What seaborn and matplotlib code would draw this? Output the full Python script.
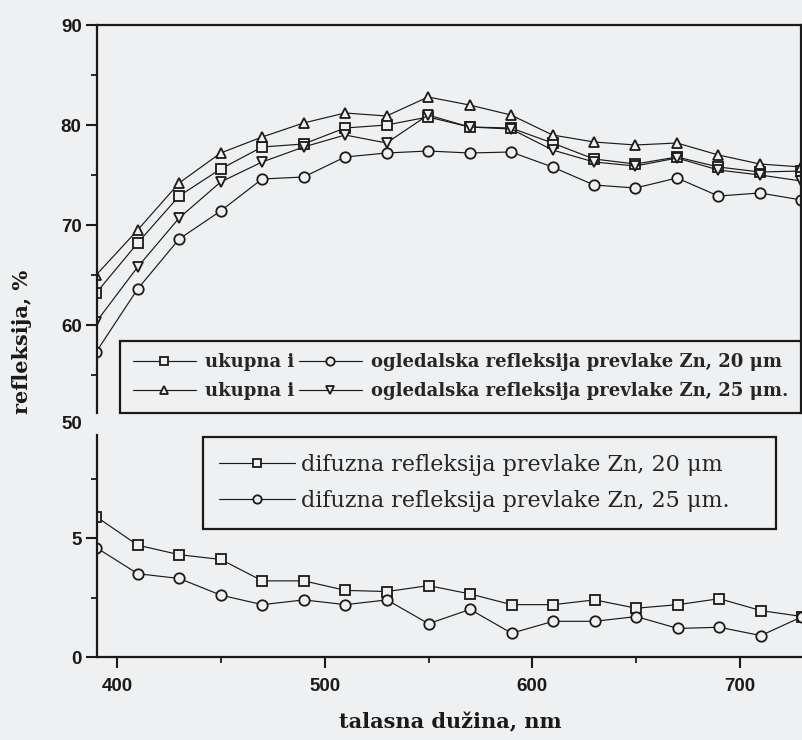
import matplotlib
matplotlib.use('Agg')
import matplotlib.pyplot as plt
import matplotlib.transforms as mtransforms
from matplotlib.lines import Line2D
from matplotlib.ticker import MultipleLocator
import seaborn as sns

# talasna duzina, nm
talasna = [390, 410, 430, 450, 470, 490, 510, 530, 550,
           570, 590, 610, 630, 650, 670, 690, 710, 730]

# ukupna i ogledalska refleksija, %
ukupna_20 = [63.2, 68.2, 72.9, 75.6, 77.8, 78.1, 79.7, 80.0, 80.8,
             79.8, 79.7, 78.2, 76.6, 76.1, 76.8, 75.8, 75.3, 75.4]
ogledalska_20 = [57.3, 63.6, 68.6, 71.4, 74.6, 74.8, 76.8, 77.2, 77.4,
                 77.2, 77.3, 75.8, 74.0, 73.7, 74.7, 72.9, 73.2, 72.5]
ukupna_25 = [65.0, 69.5, 74.2, 77.2, 78.8, 80.2, 81.2, 80.9, 82.8,
             82.0, 81.0, 79.0, 78.3, 78.0, 78.2, 77.0, 76.1, 75.8]
ogledalska_25 = [60.3, 65.8, 70.7, 74.3, 76.3, 77.8, 79.0, 78.2, 81.0,
                 79.8, 79.6, 77.5, 76.3, 75.9, 76.7, 75.5, 75.0, 74.4]

# difuzna refleksija, %
difuzna_20 = [5.9, 4.7, 4.3, 4.1, 3.2, 3.2, 2.8, 2.75, 3.0,
              2.65, 2.2, 2.2, 2.4, 2.05, 2.2, 2.45, 1.95, 1.7]
difuzna_25 = [4.6, 3.5, 3.3, 2.6, 2.2, 2.4, 2.2, 2.4, 1.4,
              2.0, 1.0, 1.5, 1.5, 1.7, 1.2, 1.25, 0.9, 1.7]

lbl_ukupna = 'ukupna i'
lbl_ogl_20 = 'ogledalska refleksija prevlake Zn, 20 μm'
lbl_ogl_25 = 'ogledalska refleksija prevlake Zn, 25 μm.'
lbl_dif_20 = 'difuzna refleksija prevlake Zn, 20 μm'
lbl_dif_25 = 'difuzna refleksija prevlake Zn, 25 μm.'

sns.set_style('ticks')
BG = '#eef0f2'
INK = '#1a1a1a'
plt.rcParams['font.family'] = ['DejaVu Serif']
plt.rcParams['axes.edgecolor'] = INK
plt.rcParams['axes.linewidth'] = 1.6

fig = plt.figure(figsize=(8.02, 7.4), dpi=100, facecolor=BG)
ax_top = fig.add_axes([97/802, 1 - 413/740, 704/802, 388/740], facecolor=BG)
ax_bot = fig.add_axes([97/802, 1 - 657/740, 705/802, 222/740], facecolor=BG)

mk = dict(color=INK, lw=0.85, markersize=7.5, markerfacecolor=BG,
          markeredgecolor=INK, markeredgewidth=1.3)

serije_top = [(ukupna_20, 's'), (ogledalska_20, 'o'),
              (ukupna_25, '^'), (ogledalska_25, 'v')]
for vals, m in serije_top:
    sns.lineplot(x=talasna, y=vals, ax=ax_top, marker=m, **mk)

for vals, m in [(difuzna_20, 's'), (difuzna_25, 'o')]:
    sns.lineplot(x=talasna, y=vals, ax=ax_bot, marker=m, **mk)

for ax in (ax_top, ax_bot):
    ax.set_xlim(390.4, 729.8)
    ax.set_xlabel('')
    ax.set_ylabel('')
    ax.tick_params(which='major', direction='out', length=8, width=1.5,
                   pad=3, colors=INK, labelsize=13.5)
    ax.tick_params(which='minor', direction='out', length=4, width=1.3,
                   colors=INK)

# gornji panel
ax_top.set_ylim(51.2, 90)
ax_top.set_yticks([60, 70, 80, 90])
ax_top.set_yticklabels(['60', '70', '80', '90'], fontfamily='Liberation Sans',
                       fontweight='bold', fontsize=13.5)
ax_top.yaxis.set_minor_locator(MultipleLocator(5))
ax_top.spines['bottom'].set_visible(False)
ax_top.tick_params(axis='x', which='both', bottom=False, labelbottom=False)
trans = mtransforms.blended_transform_factory(ax_top.transAxes, ax_top.transData)
ax_top.text(-0.021, 50.1, '50', transform=trans, ha='right', va='center',
            fontfamily='Liberation Sans', fontweight='bold', fontsize=13.5,
            color=INK)

# donji panel
ax_bot.set_ylim(0, 9.33)
ax_bot.set_yticks([0, 5])
ax_bot.set_yticklabels(['0', '5'], fontfamily='Liberation Sans',
                       fontweight='bold', fontsize=13.5)
ax_bot.yaxis.set_minor_locator(MultipleLocator(2.5))
ax_bot.set_xticks([400, 500, 600, 700])
ax_bot.set_xticklabels(['400', '500', '600', '700'], fontfamily='Liberation Sans',
                       fontweight='bold', fontsize=13.5)
ax_bot.xaxis.set_minor_locator(MultipleLocator(50))
ax_bot.tick_params(axis='x', which='major', pad=7)
sns.despine(ax=ax_bot)


# legende
def h(m, size=6):
    opts = {k: v for k, v in mk.items() if k != 'markersize'}
    return Line2D([], [], marker=m, markersize=size, **opts)


leg1 = ax_top.legend([h('s'), h('^'), h('o'), h('v')],
                     [lbl_ukupna, lbl_ukupna, lbl_ogl_20, lbl_ogl_25],
                     ncol=2, loc='lower left',
                     bbox_to_anchor=(0.033, 0.0, 0.967, 0), mode='expand',
                     prop={'weight': 'bold', 'size': 13},
                     frameon=True, fancybox=False, framealpha=1,
                     facecolor=BG, edgecolor=INK, handlelength=3.5,
                     handletextpad=0.5, columnspacing=0.5, labelspacing=0.62,
                     borderpad=0.7, borderaxespad=0)
leg1.get_frame().set_linewidth(1.6)

leg2 = ax_bot.legend([h('s'), h('o')], [lbl_dif_20, lbl_dif_25],
                     loc='upper left', bbox_to_anchor=(0.150, 0.991, 0.813, 0),
                     mode='expand', prop={'size': 16},
                     frameon=True, fancybox=False, framealpha=1,
                     facecolor=BG, edgecolor=INK, handlelength=3.4,
                     handletextpad=0.25, labelspacing=0.65,
                     borderpad=0.75, borderaxespad=0)
leg2.get_frame().set_linewidth(1.6)

fig.text(22/802, 1 - 342/740, 'refleksija, %', rotation=90, ha='center',
         va='center', fontsize=15, fontweight='bold', color=INK)
fig.text(450/802, 1 - 722/740, 'talasna dužina, nm', ha='center',
         va='center', fontsize=15, fontweight='bold', color=INK)

fig.savefig('out.png', dpi=100, facecolor=BG)
